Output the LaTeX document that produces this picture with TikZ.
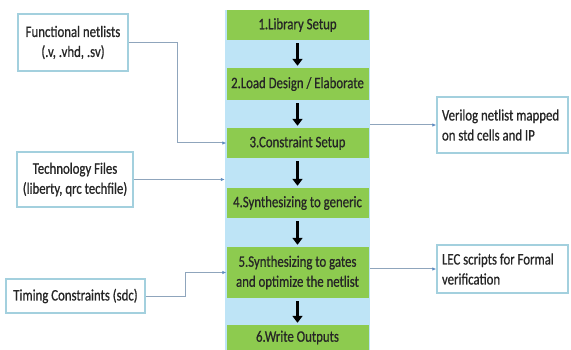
\documentclass[tikz,border=0pt]{standalone}
\usepackage{fontspec}
\setmainfont{Carlito}[FakeStretch=0.8, FakeBold=0.7]
\usetikzlibrary{arrows.meta}

\definecolor{stagegreen}{HTML}{8DCB4F}
\definecolor{flowblue}{HTML}{BEE4F6}
\definecolor{boxrim}{HTML}{A3D0DE}
\definecolor{linkgray}{HTML}{8FA5BC}
\definecolor{tipblue}{HTML}{5F8DC2}
\definecolor{inktext}{HTML}{262626}

\begin{document}
\begin{tikzpicture}[x=1pt, y=-1pt, font=\fontsize{16}{20}\selectfont, text=inktext,
  flowstrip/.style={fill=flowblue, minimum width=145pt, minimum height=340pt, inner sep=0pt},
  stage/.style={fill=stagegreen, minimum width=142pt, inner sep=0pt, align=center},
  srcbox/.style={draw=boxrim, line width=1.4pt, fill=white, align=center, inner sep=0pt},
  sinkbox/.style={draw=boxrim, line width=1.4pt, fill=white, align=flush left, inner xsep=5pt, inner ysep=0pt, text width=121pt},
  flow/.style={draw=black, line width=3.5pt, -{Triangle[width=10pt,length=7pt]}, shorten <=3pt, shorten >=2pt},
  link/.style={draw=linkgray, line width=1pt, -{Latex[length=4pt,width=3.5pt,color=tipblue]}}]
  \useasboundingbox (0,0) rectangle (571,350);
  % Flow column (background strip)
  \node[flowstrip] (strip) at (297.5,180) {};
  % Synthesis steps
  \node[stage, minimum height=30pt] (lib) at (297.5,25) {1.Library Setup};
  \node[stage, minimum height=32pt] (load) at (297.5,84) {2.Load Design / Elaborate};
  \node[stage, minimum height=30pt] (cons) at (297.5,143) {3.Constraint Setup};
  \node[stage, minimum height=30pt] (synG) at (297.5,203) {4.Synthesizing to generic};
  \node[stage, minimum height=51pt] (synT) at (297.5,272.5) {5.Synthesizing to gates\\and optimize the netlist};
  \node[stage, minimum height=25pt] (out) at (297.5,337.5) {6.Write Outputs};
  \foreach \a/\b in {lib/load, load/cons, cons/synG, synG/synT, synT/out}
    \draw[flow] (\a) -- (\b);
  % Inputs
  \node[srcbox, minimum width=110pt, minimum height=57pt] (func) at (73,42.5) {Functional netlists\\(.v, .vhd, .sv)};
  \node[srcbox, minimum width=116pt, minimum height=55pt] (tech) at (75,179.5) {Technology Files\\(liberty, qrc techfile)};
  \node[srcbox, minimum width=139pt, minimum height=34pt] (timing) at (75.5,296) {Timing Constraints (sdc)};
  \draw[link] (func.east) -| ([xshift=-49pt]cons.west) -- (cons.west);
  \draw[link] (tech.east) -- (tech.east -| strip.west);
  \draw[link] (timing.east) -| ([xshift=-41pt]synT.west) -- (synT.west);
  % Outputs
  \node[sinkbox, minimum height=56pt] (verilog) at (502.5,125) {Verilog netlist mapped\\on std cells and IP};
  \node[sinkbox, minimum height=48pt] (lec) at (502.5,269) {LEC scripts for Formal\\verification};
  \draw[link] (verilog.west -| strip.east) -- (verilog.west);
  \draw[link] (lec.west -| strip.east) -- (lec.west);
\end{tikzpicture}
\end{document}
